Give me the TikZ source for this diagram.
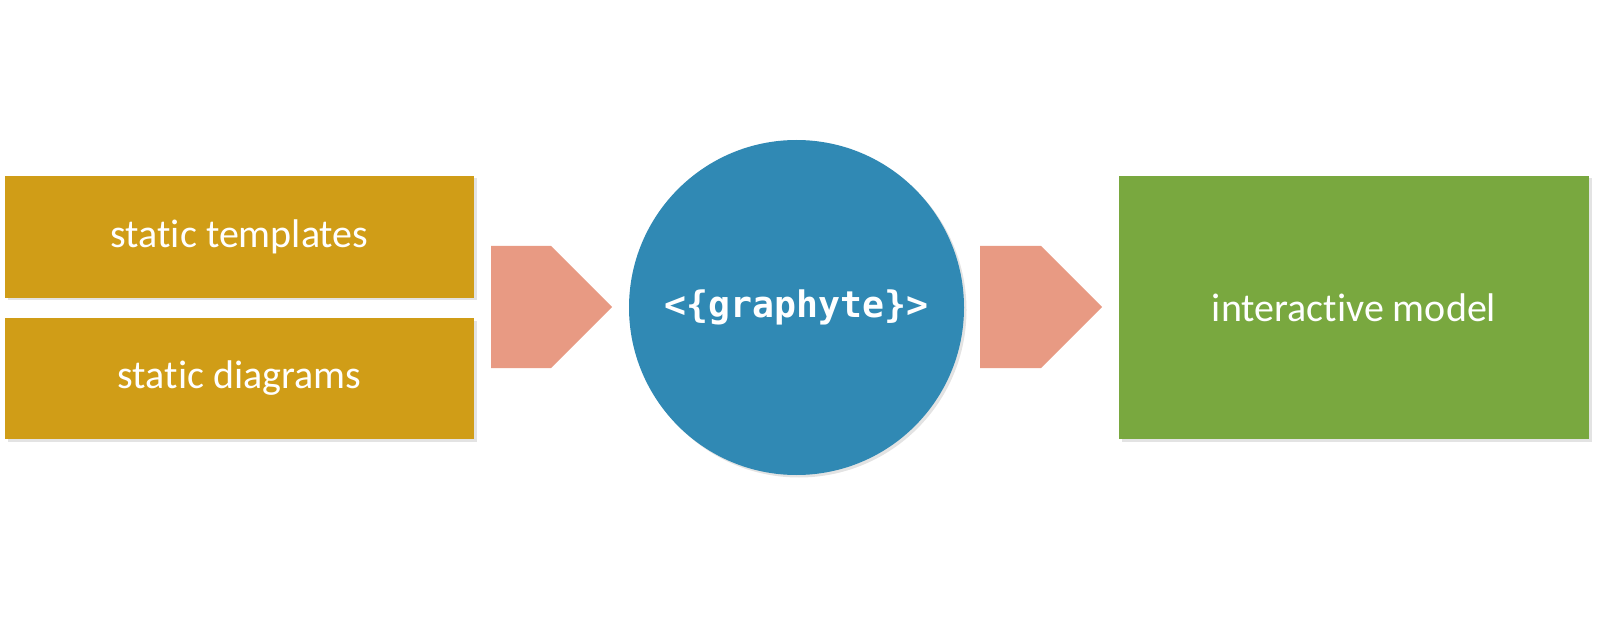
\documentclass[tikz,border=0pt]{standalone}
\usepackage{fontspec}
\setmainfont[Ligatures=NoCommon]{Carlito}
\newfontfamily\codefont{DejaVu Sans Mono}
\usetikzlibrary{shadows}
\definecolor{gold}{HTML}{D09D17}
\definecolor{salmon}{HTML}{E89A83}
\definecolor{blueball}{HTML}{3089B4}
\definecolor{leaf}{HTML}{79A83F}
\begin{document}
\begin{tikzpicture}[x=1pt,y=-1pt,
  shad/.style={drop shadow={opacity=0.22,shadow xshift=2.5pt,shadow yshift=-2.5pt}},
  boxstyle/.style={shad,rectangle,inner sep=0pt,text=white,font=\fontsize{40}{46}\selectfont},
  arrowshape/.style={fill=salmon}]
\useasboundingbox (0,0) rectangle (1598,620);
\node[boxstyle,fill=gold,minimum width=469pt,minimum height=122pt] (tpl) at (239.5,237) {static templates};
\node[boxstyle,fill=gold,minimum width=469pt,minimum height=121pt] (dia) at (239.5,378.5) {static diagrams};
\node[shad,circle,fill=blueball,minimum size=335pt,inner sep=0pt,text=white,font=\codefont\bfseries\fontsize{36.5}{40}\selectfont] (core) at (796.5,307.5) {<\{graphyte\}>};
\node[boxstyle,fill=leaf,minimum width=470pt,minimum height=263pt] (model) at (1354,307.5) {interactive model};
\fill[arrowshape] (491,246) -- (551,246) -- (612,307) -- (551,368) -- (491,368) -- cycle;
\fill[arrowshape] (980,246) -- (1041,246) -- (1102,307) -- (1041,368) -- (980,368) -- cycle;
\end{tikzpicture}
\end{document}
